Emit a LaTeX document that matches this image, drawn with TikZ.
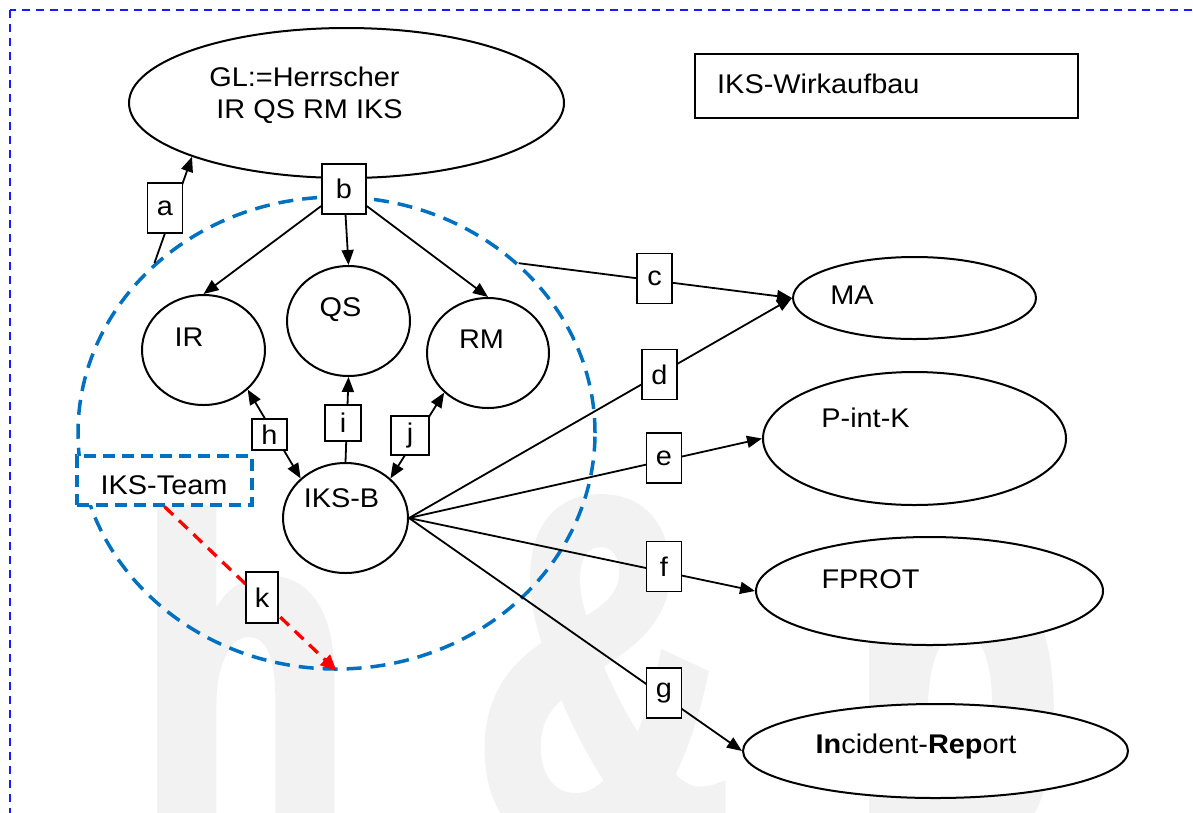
\documentclass[tikz,border=0pt]{standalone}
\usepackage{fontspec}
\setmainfont{Liberation Sans}[FakeStretch=1.07]
\newfontfamily\markfont{Liberation Sans}[FakeStretch=0.72, FakeBold=2.5]
\usetikzlibrary{arrows.meta, shapes.geometric}
\definecolor{ringblue}{HTML}{0070C0}
\definecolor{frameblue}{HTML}{1A1AFF}
\definecolor{markgray}{HTML}{F2F2F2}
\newcommand{\diagfont}{\fontsize{27}{32}\selectfont}
\newcommand{\markbig}{\markfont\bfseries\fontsize{480}{480}\selectfont}
\newcommand{\markamp}{\markfont\bfseries\fontsize{491}{491}\selectfont}

\begin{document}
\begin{tikzpicture}[x=1pt, y=-1pt,
    every node/.style={font=\diagfont},
    oval/.style={ellipse, draw, line width=2pt, fill=white, inner sep=0pt},
    tag/.style={rectangle, draw, line width=1.7pt, fill=white, minimum width=35pt, minimum height=50pt, inner sep=0pt},
    txt/.style={inner sep=0pt, anchor=base},
    wmark/.style={inner sep=0pt, anchor=base west, text=markgray, font=\markbig},
    link/.style={line width=1.8pt, -{Triangle[length=15pt, width=12pt]}},
    twoway/.style={line width=1.8pt, {Triangle[length=15pt, width=12pt]}-{Triangle[length=15pt, width=12pt]}}]
    \useasboundingbox (0,0) rectangle (1193,812);
    \clip (0,0) rectangle (1193,812);

    % watermark
    \node[wmark] (wmh) at (138.7,840) {h};
    \node[wmark, font=\markamp] (wmamp) at (475,840) {\&};
    \node[wmark] (wmp) at (850.7,840) {p};

    \draw[frameblue, line width=2pt, dash pattern=on 8pt off 6pt] (9.5,9.5) rectangle (1230,850);

    % IKS circle
    \node[ellipse, draw=ringblue, line width=3.5pt, dash pattern=on 15pt off 9pt,
          minimum width=517pt, minimum height=472pt, inner sep=0pt] (ring) at (336.5,433) {};

    \node[oval, minimum width=435pt, minimum height=150pt] (GL) at (346.5,103) {};
    \node[oval, minimum width=123pt, minimum height=110pt] (IR) at (203.5,350) {};
    \node[oval, minimum width=123pt, minimum height=110pt] (QS) at (348.5,321) {};
    \node[oval, minimum width=122pt, minimum height=110pt] (RM) at (488,353) {};
    \node[oval, minimum width=125pt, minimum height=110pt] (IKSB) at (345.5,518) {};
    \node[oval, minimum width=243pt, minimum height=82pt] (MA) at (914.5,298) {};
    \node[oval, minimum width=303pt, minimum height=133pt] (PintK) at (914.5,438.5) {};
    \node[oval, minimum width=347pt, minimum height=108pt] (FPROT) at (929.5,591) {};
    \node[oval, minimum width=385pt, minimum height=94pt] (IncRep) at (935.5,751) {};
    \node[draw, line width=2pt, minimum width=383pt, minimum height=64pt, inner sep=0pt] (title) at (886.5,86) {};
    \node[draw=ringblue, line width=3.3pt, dash pattern=on 12pt off 7pt, fill=white,
          minimum width=175pt, minimum height=49pt, inner sep=0pt] (team) at (164.5,480.5) {};
    \node[tag, minimum width=44pt] (lb) at (344,189) {b};

    % texts
    \node[txt] (GLa) at (304.5,86) {GL:=Herrscher};
    \node[txt] (GLb) at (309.5,118) {IR QS RM IKS};
    \node[txt] (IRt) at (189,346) {IR};
    \node[txt] (QSt) at (340.5,316) {QS};
    \node[txt] (RMt) at (481.5,348) {RM};
    \node[txt] (IKSBt) at (341.5,507) {IKS-B};
    \node[txt] (teamt) at (164,494) {IKS-Team};
    \node[txt] (MAt) at (852,304) {MA};
    \node[txt] (PintKt) at (865.5,427) {P-int-K};
    \node[txt] (FPROTt) at (870.5,588) {FPROT};
    \node[txt] (IncRept) at (916,753) {\textbf{In}cident-\textbf{Rep}ort};
    \node[txt, anchor=base west] (titlet) at (717,93) {IKS-Wirkaufbau};

    % connectors
    \draw[link] (ring.137) -- (GL.south west);
    \draw[link] (lb) -- (IR.north);
    \draw[link] (lb) -- (QS.north);
    \draw[link] (lb) -- (RM.north);
    \draw[link] (ring.43) -- (MA.west);
    \draw[link] (IKSB.east) -- (MA.west);
    \draw[link] (IKSB.east) -- (PintK.west);
    \draw[link] (IKSB.east) -- (FPROT.west);
    \draw[link] (IKSB.east) -- (IncRep.west);
    \draw[twoway] (IR.south east) -- (IKSB.north west);
    \draw[link] (IKSB.north) -- (QS.south);
    \draw[twoway] (RM.south west) -- (IKSB.north east);
    \draw[red, line width=3.3pt, dash pattern=on 12pt off 8pt, -{Triangle[length=16pt, width=14pt]}] (team.south) -- (ring.south);

    % labels
    \node[tag] (la) at (165,208) {a};
    \node[tag] (lc) at (654.5,278.5) {c};
    \node[tag] (ld) at (659.5,374.5) {d};
    \node[tag] (le) at (664,458) {e};
    \node[tag] (lf) at (664,566.5) {f};
    \node[tag] (lg) at (664,693) {g};
    \node[tag, minimum height=31pt] (lh) at (269.5,434.5) {h};
    \node[tag, minimum width=36pt, minimum height=36pt] (li) at (343,423) {i};
    \node[tag, minimum width=38pt, minimum height=39pt] (lj) at (410,435.5) {j};
    \node[tag, minimum width=32pt, minimum height=51pt] (lk) at (262,597.5) {k};
\end{tikzpicture}
\end{document}
